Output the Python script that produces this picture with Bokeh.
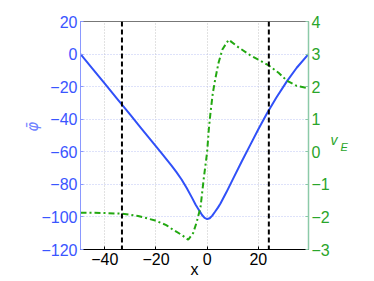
import math
from bokeh.plotting import figure
from bokeh.models import Range1d, LinearAxis, FixedTicker, Span
from bokeh.embed import file_html
from bokeh.resources import INLINE

# ---- data ----
phi_x = [-49.5, -45, -40, -35, -30, -26, -22, -18, -14, -12, -10, -8, -6, -4.5, -3, -2, -1, 0,
         1, 2, 3, 4.2, 5.2, 7.5, 10.4, 13.5, 16.9, 20, 23.4, 27, 31.2, 35, 39.6]
phi_y = [0, -8.6, -18.2, -27.8, -37.4, -45.1, -52.8, -60.5, -68.3, -72.5, -77, -82.3, -88,
         -92.5, -96.3, -98.8, -100.6, -101.3, -100.8, -99.2, -97, -94.3, -91.8, -84.9, -75.7,
         -66, -55.6, -46.2, -36.3, -26.8, -16.6, -8.4, 0]

ve_x = [-49.5, -45, -40, -33.3, -27, -20.3, -16, -13.8, -10, -7.4, -5.5, -4.1, -2.6, -1.3,
        0, 0.6, 1.3, 2.2, 3.2, 4.5, 6, 8.4, 12, 16.9, 20, 24.1, 28, 31.2, 35, 39.6]
ve_y = [-1.87, -1.87, -1.88, -1.90, -1.97, -2.11, -2.25, -2.37, -2.55, -2.70, -2.50, -2.16,
        -1.70, -0.80, 0.0, 0.65, 1.20, 1.80, 2.25, 2.75, 3.15, 3.44, 3.22, 2.96, 2.83, 2.65,
        2.42, 2.18, 2.02, 1.95]

marker_x = [-33.3, 24.1]

x_ticks = [-40, -20, 0, 20]
left_ticks = [-120, -100, -80, -60, -40, -20, 0, 20]
right_ticks = [-3, -2, -1, 0, 1, 2, 3, 4]

# axis-label anchor positions (in the axes' own units)
phi_label_at = -44.6
v_label_at = 0.36
e_label_at = 0.14

BLUE = "#3050f8"
BLUE_TXT = "#3a55ff"
BLUE_AX = "#8a98ff"
GREEN = "#22a811"
GREEN_TXT = "#2aa52a"
GREEN_AX = "#8ccaa8"
FONT = "Liberation Sans"


def minus(v):
    return str(v).replace("-", "\u2212")


def bare(axis):
    axis.axis_line_color = None
    axis.major_tick_line_color = None
    axis.minor_tick_line_color = None
    axis.major_tick_in = 0
    axis.major_tick_out = 0


p = figure(width=374, height=281, output_backend="svg", toolbar_location=None,
           x_range=Range1d(-49.5, 39.6), y_range=Range1d(-120, 20),
           min_border_left=80, min_border_right=66, min_border_top=21,
           min_border_bottom=32)
p.background_fill_color = "white"
p.border_fill_color = "white"
p.outline_line_color = "#777777"
p.outline_line_width = 1

p.extra_y_ranges = {"ve": Range1d(-3, 4)}

# grids
p.xgrid.ticker = FixedTicker(ticks=x_ticks)
p.xgrid.grid_line_color = "#c4c4c4"
p.xgrid.grid_line_dash = "1 2"
p.ygrid.ticker = FixedTicker(ticks=left_ticks)
p.ygrid.grid_line_color = "#bcc4f4"
p.ygrid.grid_line_dash = "1 2"

# bottom axis
xa = p.xaxis[0]
xa.ticker = FixedTicker(ticks=x_ticks)
xa.major_label_overrides = {t: minus(t) for t in x_ticks}
xa.axis_line_color = "black"
xa.major_tick_line_color = "black"
xa.major_tick_in = 3
xa.major_tick_out = 0
xa.minor_tick_line_color = None
xa.major_label_text_font = FONT
xa.major_label_text_font_size = "16px"
xa.major_label_text_color = "black"
xa.major_label_standoff = 3
xa.axis_label = "x"
xa.axis_label_text_font = FONT
xa.axis_label_text_font_size = "16px"
xa.axis_label_text_font_style = "normal"
xa.axis_label_text_color = "black"
xa.axis_label_standoff = -7

# left axis
ya = p.yaxis[0]
ya.ticker = FixedTicker(ticks=left_ticks)
ya.major_label_overrides = {t: minus(t) for t in left_ticks}
ya.axis_line_color = BLUE_AX
ya.major_tick_line_color = BLUE_AX
ya.major_tick_in = 3
ya.major_tick_out = 0
ya.minor_tick_line_color = None
ya.major_label_text_font = FONT
ya.major_label_text_font_size = "16px"
ya.major_label_text_color = BLUE_TXT
ya.major_label_standoff = 3

# left label phi-bar (as a rotated label on an extra bare axis)
la = LinearAxis()
bare(la)
la.ticker = FixedTicker(ticks=[phi_label_at])
la.major_label_overrides = {phi_label_at: "\u03c6\u0304"}
la.major_label_orientation = "vertical"
la.major_label_text_font = "DejaVu Sans"
la.major_label_text_font_size = "15px"
la.major_label_text_font_style = "italic"
la.major_label_text_color = "#6f82ff"
la.major_label_standoff = -4
p.add_layout(la, "left")

# right axis
ra = LinearAxis(y_range_name="ve")
ra.ticker = FixedTicker(ticks=right_ticks)
ra.major_label_overrides = {t: minus(t) for t in right_ticks}
ra.axis_line_color = GREEN_AX
ra.axis_line_width = 1.5
ra.major_tick_line_color = GREEN_AX
ra.major_tick_in = 3
ra.major_tick_out = 0
ra.minor_tick_line_color = None
ra.major_label_text_font = FONT
ra.major_label_text_font_size = "16px"
ra.major_label_text_color = GREEN_TXT
ra.major_label_standoff = 3
p.add_layout(ra, "right")

# right label v_E: "v" and subscript "E" on bare axes
va = LinearAxis(y_range_name="ve")
bare(va)
va.ticker = FixedTicker(ticks=[v_label_at])
va.major_label_overrides = {v_label_at: "v"}
va.major_label_text_font = FONT
va.major_label_text_font_size = "14px"
va.major_label_text_font_style = "italic"
va.major_label_text_color = GREEN_TXT
va.major_label_standoff = -2
p.add_layout(va, "right")

ea = LinearAxis(y_range_name="ve")
bare(ea)
ea.ticker = FixedTicker(ticks=[e_label_at])
ea.major_label_overrides = {e_label_at: "E"}
ea.major_label_text_font = FONT
ea.major_label_text_font_size = "11px"
ea.major_label_text_font_style = "italic"
ea.major_label_text_color = GREEN_TXT
ea.major_label_standoff = 0
p.add_layout(ea, "right")

# curves
p.line(phi_x, phi_y, line_color=BLUE, line_width=2)
p.line(ve_x, ve_y, line_color=GREEN, line_width=2, line_dash="6 3 2 3",
       y_range_name="ve")

for mx in marker_x:
    p.add_layout(Span(location=mx, dimension="height", line_color="black",
                      line_width=2, line_dash="5 3"))

open("out.html", "w").write(file_html(p, INLINE))
